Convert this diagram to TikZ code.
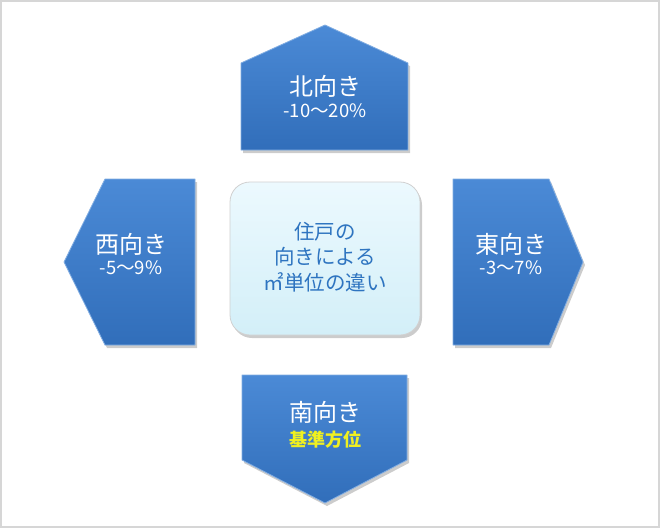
\documentclass[tikz,border=0pt]{standalone}
\usepackage{fontspec}
\setmainfont{Noto Sans CJK JP}
\definecolor{bluetop}{HTML}{4B8AD6}
\definecolor{bluebot}{HTML}{316EBA}
\definecolor{bluetext}{HTML}{2E74C0}
\definecolor{centertop}{HTML}{ECF9FE}
\definecolor{centerbot}{HTML}{D3EFF8}
\definecolor{framegray}{HTML}{D6D6D6}
\definecolor{yel}{HTML}{F0F020}
\tikzset{
  dirshape/.style={top color=bluetop, bottom color=bluebot, draw=bluetop!70!white, line width=0.8pt, line join=round},
  shadowshape/.style={fill=black, opacity=0.2},
  dirlabel/.style={text=white, align=center, font=\fontsize{24}{27}\selectfont, inner sep=0pt},
  numlabel/.style={text=white, align=center, font=\fontsize{18.5}{21}\selectfont, inner sep=0pt},
  centerlabel/.style={text=bluetext, align=center, font=\fontsize{20.5}{25.5}\selectfont, inner sep=0pt},
}
\begin{document}
\begin{tikzpicture}[x=1pt,y=-1pt]
\useasboundingbox (0,0) rectangle (660,528);
\fill[white] (0,0) rectangle (660,528);
\draw[framegray, line width=2pt] (1,1) rectangle (659,527);
% shadows
\begin{scope}[shift={(2,3)}]
\fill[shadowshape] (241,63) -- (325,25) -- (408,63) -- (408,150) -- (241,150) -- cycle;
\fill[shadowshape] (105,179) -- (195,179) -- (195,345) -- (105,345) -- (64,262) -- cycle;
\fill[shadowshape] (453,179) -- (549,179) -- (583,262) -- (549,345) -- (453,345) -- cycle;
\fill[shadowshape] (242,375) -- (407,375) -- (407,460) -- (325,503) -- (242,460) -- cycle;
\fill[shadowshape, rounded corners=20pt] (230,182) rectangle (420,335);
\end{scope}
% north
\path[dirshape] (241,63) -- (325,25) -- (408,63) -- (408,150) -- (241,150) -- cycle;
% west
\path[dirshape] (105,179) -- (195,179) -- (195,345) -- (105,345) -- (64,262) -- cycle;
% east
\path[dirshape] (453,179) -- (549,179) -- (583,262) -- (549,345) -- (453,345) -- cycle;
% south
\path[dirshape] (242,375) -- (407,375) -- (407,460) -- (325,503) -- (242,460) -- cycle;
% center
\path[top color=centertop, bottom color=centerbot, draw=black!18, line width=0.8pt, rounded corners=20pt] (230,182) rectangle (420,335);
% labels
\node[dirlabel] (n1) at (325,86) {北向き};
\node[numlabel] (n2) at (325,111) {-10～20\%};
\node[dirlabel] (w1) at (131,244) {西向き};
\node[numlabel] (w2) at (131,268) {-5～9\%};
\node[dirlabel] (e1) at (511,244) {東向き};
\node[numlabel] (e2) at (511,268) {-3～7\%};
\node[dirlabel] (s1) at (325,412) {南向き};
\node[text=yel, font=\bfseries\fontsize{18}{20}\selectfont, inner sep=0pt] (s2) at (325,440) {基準方位};
\node[centerlabel] (c) at (325,257) {住戸の\\向きによる\\㎡単位の違い};
\end{tikzpicture}
\end{document}
